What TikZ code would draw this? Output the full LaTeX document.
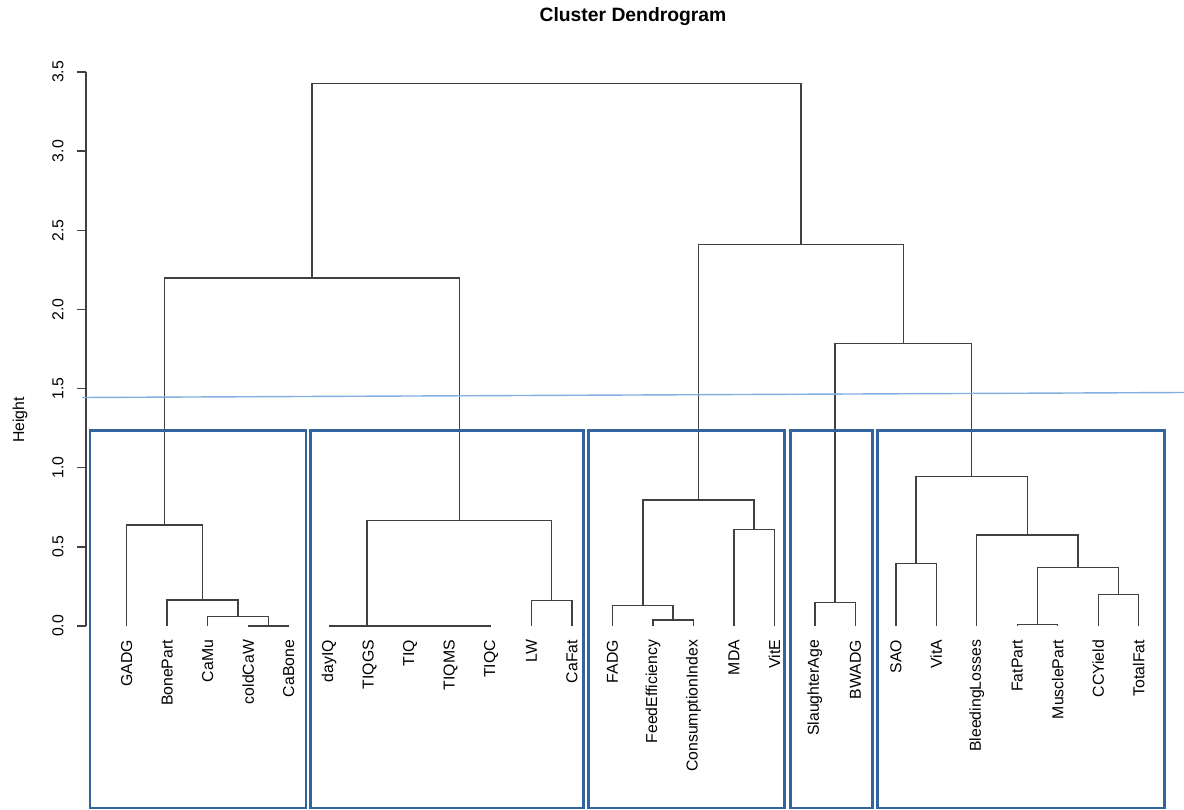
\documentclass[tikz,border=0pt]{standalone}
\usepackage{fontspec}
\setmainfont{Liberation Sans}
\usetikzlibrary{calc}

\begin{document}
\begin{tikzpicture}[
		x=0.02cm,y=-0.02cm,
		line cap=butt,line join=miter,
		font=\fontsize{9}{11}\selectfont
		]
		% ---- colors
		\definecolor{dendroGray}{RGB}{64,64,64}
		\definecolor{boxBlue}{RGB}{50,100,160}
		\definecolor{cutBlue}{RGB}{130,175,225}
		
		% ---- parameters (pixel grid of the plot)
		\def\yZero{626}
		\def\yUnit{158.3}
		\def\xFirst{126.7}
		\def\leafSep{40.48}
		\def\xAxis{86}
		\def\yLab{640}
		
		\useasboundingbox (0,0) rectangle (1184,810);
		
		\tikzset{
			dendro/.style={dendroGray, line width=0.8pt},
			leaflab/.style={rotate=90, anchor=east, inner sep=0pt, outer sep=0pt},
			ticklab/.style={rotate=90, inner sep=0pt},
			clusterbox/.style={boxBlue, line width=1.6pt}
		}
		
		% ---- helper: join two branches at height #4, new top = coordinate #1
		\def\joinpair#1#2#3#4{
			\path let \p1=(#2), \p2=(#3), \p3=(0,{\yZero-\yUnit*#4}) in
			coordinate (#1) at ({0.5*(\x1+\x2)},\y3);
			\draw[dendro] (#2) |- (#1) -| (#3);
		}
		
		% ---- title
		\node[font=\fontsize{11}{13}\selectfont\bfseries] (title) at (633,17) {Cluster Dendrogram};
		
		% ---- y axis
		\draw[dendro] (\xAxis,{\yZero}) -- (\xAxis,{\yZero-\yUnit*3.5});
		\foreach \h [count=\k] in {0.0,0.5,1.0,1.5,2.0,2.5,3.0,3.5}{
			\draw[dendro] (\xAxis,{\yZero-\yUnit*\h}) -- ++(-9,0);
			\node[ticklab] (tick\k) at (58,{\yZero-\yUnit*\h}) {\h};
		}
		\node[rotate=90] (ylab) at (20,420) {Height};
		
		% ---- leaves
		\foreach \leaf [count=\i from 0] in {GADG,BonePart,CaMu,coldCaW,CaBone,dayIQ,TIQGS,TIQ,TIQMS,TIQC,LW,CaFat,FADG,FeedEfficiency,ConsumptionIndex,MDA,VitE,SlaughterAge,BWADG,SAO,VitA,BleedingLosses,FatPart,MusclePart,CCYield,TotalFat}{
			\coordinate (\leaf) at ({\xFirst+\i*\leafSep},\yZero);
			\node[leaflab] (t\leaf) at ({\xFirst+\i*\leafSep},\yLab) {\leaf};
		}
		
		% ---- group 1
		\joinpair{cb}{coldCaW}{CaBone}{0}
		\joinpair{cm}{CaMu}{cb}{0.059}
		\joinpair{bp}{BonePart}{cm}{0.164}
		\joinpair{grpA}{GADG}{bp}{0.638}
		
		% ---- group 2
		\joinpair{q1}{TIQMS}{TIQC}{0}
		\joinpair{q2}{TIQ}{q1}{0}
		\joinpair{q3}{TIQGS}{q2}{0}
		\joinpair{q4}{dayIQ}{q3}{0}
		\joinpair{lc}{LW}{CaFat}{0.160}
		\joinpair{grpB}{q4}{lc}{0.665}
		\joinpair{left}{grpA}{grpB}{2.198}
		
		% ---- group 3
		\joinpair{fc}{FeedEfficiency}{ConsumptionIndex}{0.038}
		\joinpair{ff}{FADG}{fc}{0.128}
		\joinpair{mv}{MDA}{VitE}{0.611}
		\joinpair{grpC}{ff}{mv}{0.796}
		
		% ---- group 4
		\joinpair{grpD}{SlaughterAge}{BWADG}{0.147}
		
		% ---- group 5
		\joinpair{sv}{SAO}{VitA}{0.396}
		\joinpair{fm}{FatPart}{MusclePart}{0.011}
		\joinpair{ct}{CCYield}{TotalFat}{0.198}
		\joinpair{pt}{fm}{ct}{0.371}
		\joinpair{bl}{BleedingLosses}{pt}{0.575}
		\joinpair{grpE}{sv}{bl}{0.943}
		
		% ---- upper merges
		\joinpair{rr}{grpD}{grpE}{1.786}
		\joinpair{right}{grpC}{rr}{2.411}
		\joinpair{root}{left}{right}{3.428}
		
		% ---- cut line
		\coordinate (cutL) at (82,397.5);
		\coordinate (cutR) at (1184,392.5);
		\draw[cutBlue, line width=0.8pt] (cutL) -- (cutR);
		
		% ---- cluster boxes
		\foreach \xa/\xb in {90/306, 310.5/583.5, 588.5/784.5, 790.5/872.5, 877.5/1164.5}{
			\draw[clusterbox] (\xa,430.5) rectangle (\xb,808);
		}
		
	\end{tikzpicture}
\end{document}
